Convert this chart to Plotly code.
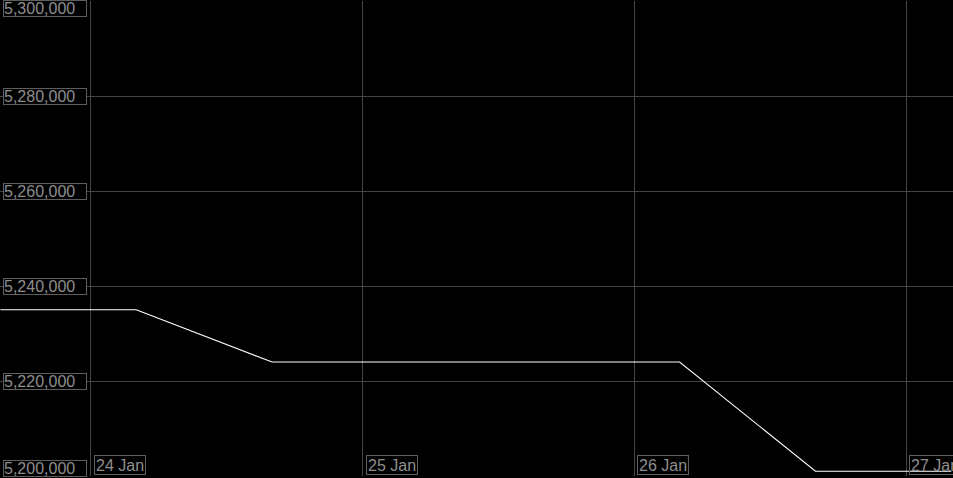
import plotly.graph_objects as go

times = ["2024-01-23 16:00", "2024-01-24 04:00", "2024-01-24 16:00", "2024-01-25 04:00",
         "2024-01-25 16:00", "2024-01-26 04:00", "2024-01-26 16:00", "2024-01-27 04:00"]
values = [5235000, 5235000, 5224000, 5224000, 5224000, 5224000, 5201000, 5201000]

y_ticks = [5200000, 5220000, 5240000, 5260000, 5280000, 5300000]
y_tick_labels = ["5,200,000", "5,220,000", "5,240,000", "5,260,000", "5,280,000", "5,300,000"]
x_ticks = ["2024-01-24", "2024-01-25", "2024-01-26", "2024-01-27"]
x_tick_labels = ["24 Jan", "25 Jan", "26 Jan", "27 Jan"]

GRID = "#444444"
TXT = "#8e8e8e"
BORDER = "#5f5f5f"
FONT = "Liberation Sans, Arial, sans-serif"

fig = go.Figure()
fig.add_trace(go.Scatter(x=times, y=values, mode="lines",
                         line=dict(color="#ffffff", width=1.1), hoverinfo="skip"))

annotations = []
for v, lab in zip(y_ticks, y_tick_labels):
    if v == y_ticks[-1]:
        yref, yy, anchor, shift = "paper", 1, "top", 1
    elif v == y_ticks[0]:
        yref, yy, anchor, shift = "paper", 0, "bottom", -1
    else:
        yref, yy, anchor, shift = "y", v, "middle", 0
    annotations.append(dict(
        xref="paper", x=0, xanchor="left", xshift=3,
        yref=yref, y=yy, yanchor=anchor, yshift=shift,
        text=lab, showarrow=False, align="left",
        width=82, height=15, borderpad=0, borderwidth=1,
        bordercolor=BORDER, bgcolor="#000000",
        font=dict(family=FONT, size=16, color=TXT)))
for d, lab in zip(x_ticks, x_tick_labels):
    annotations.append(dict(
        xref="x", x=d, xanchor="left", xshift=3,
        yref="paper", y=0, yanchor="bottom", yshift=1,
        text=lab, showarrow=False, align="left",
        height=16, borderpad=1, borderwidth=1,
        bordercolor=BORDER, bgcolor="rgba(0,0,0,0)",
        font=dict(family=FONT, size=16, color=TXT)))

fig.update_layout(
    width=953, height=478,
    margin=dict(l=0, r=0, t=1, b=2),
    paper_bgcolor="#000000", plot_bgcolor="#000000",
    showlegend=False,
    annotations=annotations,
    xaxis=dict(type="date", range=["2024-01-23 15:58", "2024-01-27 04:09"],
               tickvals=x_ticks, showticklabels=False, showgrid=True,
               gridcolor=GRID, gridwidth=1, zeroline=False, showline=False,
               ticks=""),
    yaxis=dict(range=[5200000, 5300000], tickvals=y_ticks, showticklabels=False,
               showgrid=True, gridcolor=GRID, gridwidth=1, zeroline=False,
               showline=True, linecolor=GRID, mirror=True, ticks=""),
)

fig.write_html("out.html", config={"displayModeBar": False},
               post_script="document.body.style.margin='0';document.body.style.background='#000';document.body.style.overflow='hidden';")
